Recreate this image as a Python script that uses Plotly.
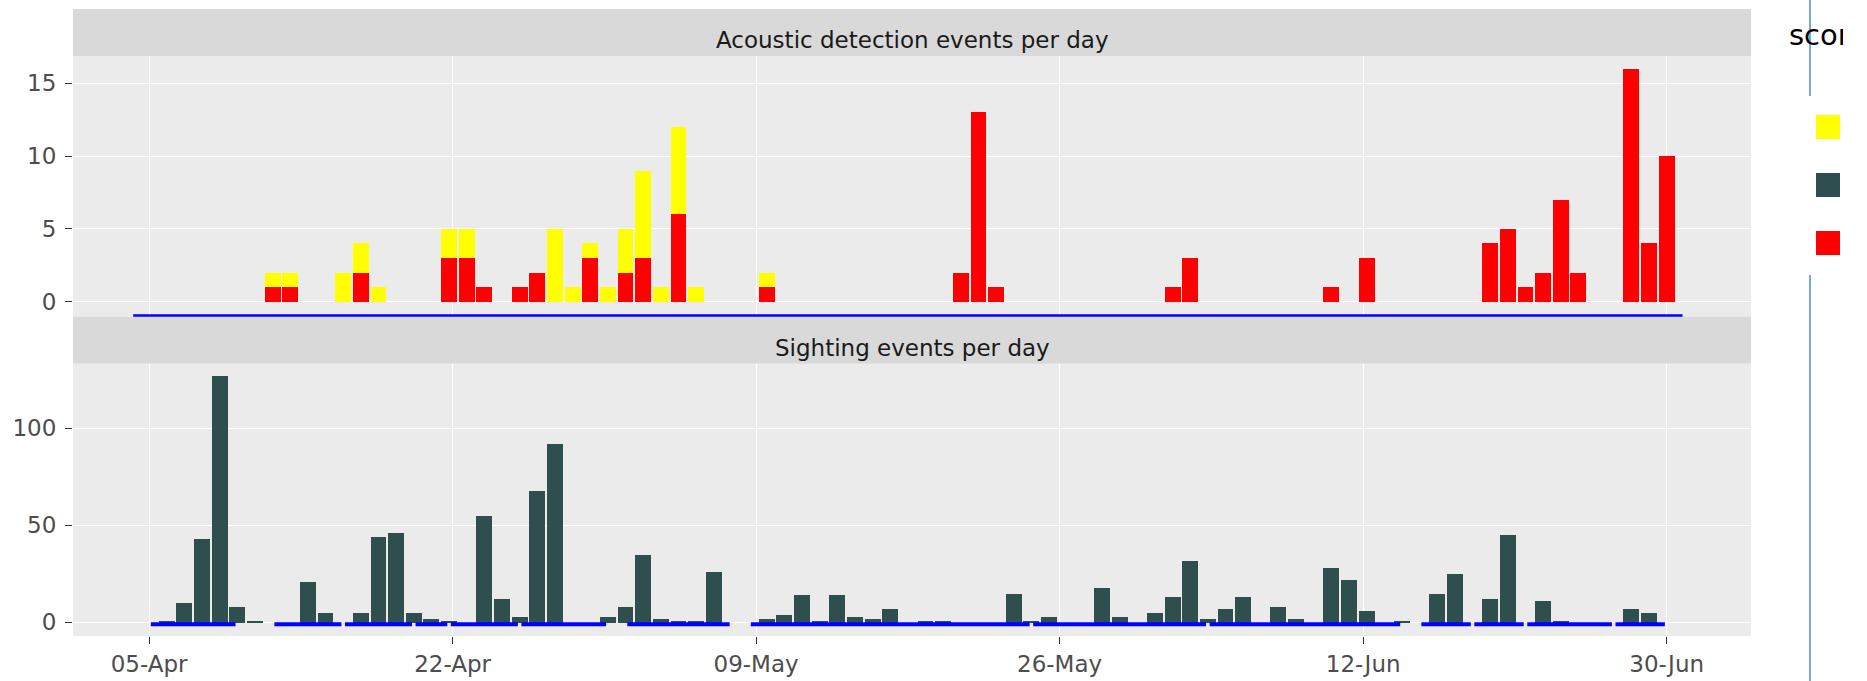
import pandas as pd
import plotly.graph_objects as go

# ---------------- data ----------------
acoustic_red_dates = ["2017-04-12", "2017-04-13", "2017-04-17", "2017-04-22", "2017-04-23",
                      "2017-04-24", "2017-04-26", "2017-04-27", "2017-04-30", "2017-05-02",
                      "2017-05-03", "2017-05-05", "2017-05-10", "2017-05-21", "2017-05-22",
                      "2017-05-23", "2017-06-02", "2017-06-03", "2017-06-11", "2017-06-13",
                      "2017-06-20", "2017-06-21", "2017-06-22", "2017-06-23", "2017-06-24",
                      "2017-06-25", "2017-06-28", "2017-06-29", "2017-06-30"]
acoustic_red_counts = [1, 1, 2, 3, 3, 1, 1, 2, 3, 2, 3, 6, 1, 2, 13, 1, 1, 3, 1, 3,
                       4, 5, 1, 2, 7, 2, 16, 4, 10]

acoustic_yellow_dates = ["2017-04-12", "2017-04-13", "2017-04-16", "2017-04-17", "2017-04-18",
                         "2017-04-22", "2017-04-23", "2017-04-28", "2017-04-29", "2017-04-30",
                         "2017-05-01", "2017-05-02", "2017-05-03", "2017-05-04", "2017-05-05",
                         "2017-05-06", "2017-05-10"]
acoustic_yellow_counts = [1, 1, 2, 2, 1, 2, 2, 5, 1, 1, 1, 3, 6, 1, 6, 1, 1]

sighting_dates = ["2017-04-06", "2017-04-07", "2017-04-08", "2017-04-09", "2017-04-10",
                  "2017-04-11", "2017-04-14", "2017-04-15", "2017-04-17", "2017-04-18",
                  "2017-04-19", "2017-04-20", "2017-04-21", "2017-04-22", "2017-04-24",
                  "2017-04-25", "2017-04-26", "2017-04-27", "2017-04-28", "2017-05-01",
                  "2017-05-02", "2017-05-03", "2017-05-04", "2017-05-05", "2017-05-06",
                  "2017-05-07", "2017-05-10", "2017-05-11", "2017-05-12", "2017-05-13",
                  "2017-05-14", "2017-05-15", "2017-05-16", "2017-05-17", "2017-05-19",
                  "2017-05-20", "2017-05-24", "2017-05-25", "2017-05-26", "2017-05-29",
                  "2017-05-30", "2017-06-01", "2017-06-02", "2017-06-03", "2017-06-04",
                  "2017-06-05", "2017-06-06", "2017-06-08", "2017-06-09", "2017-06-11",
                  "2017-06-12", "2017-06-13", "2017-06-15", "2017-06-17", "2017-06-18",
                  "2017-06-20", "2017-06-21", "2017-06-23", "2017-06-24", "2017-06-28",
                  "2017-06-29"]
sighting_counts = [1, 10, 43, 127, 8, 1, 21, 5, 5, 44, 46, 5, 2, 1, 55, 12, 3, 68, 92, 3,
                   8, 35, 2, 1, 1, 26, 2, 4, 14, 1, 14, 3, 2, 7, 1, 1, 15, 1, 3, 18,
                   3, 5, 13, 32, 2, 7, 13, 8, 2, 28, 22, 6, 1, 15, 25, 12, 45, 11, 1, 7, 5]

# monitoring effort periods (drawn as blue bars just below zero)
acoustic_effort_start = ["2017-04-04 02:24"]
acoustic_effort_end = ["2017-06-30 21:36"]
sighting_effort_start = ["2017-04-05 02:24", "2017-04-12 02:24", "2017-04-16 02:24",
                         "2017-04-20 02:24", "2017-04-22 02:24", "2017-04-26 02:24",
                         "2017-05-02 02:24", "2017-05-09 02:24", "2017-05-25 02:24",
                         "2017-06-04 02:24", "2017-06-16 02:24", "2017-06-19 02:24",
                         "2017-06-22 02:24", "2017-06-27 02:24"]
sighting_effort_end = ["2017-04-09 21:36", "2017-04-15 21:36", "2017-04-19 21:36",
                       "2017-04-21 21:36", "2017-04-25 21:36", "2017-04-30 21:36",
                       "2017-05-07 21:36", "2017-05-24 21:36", "2017-06-03 21:36",
                       "2017-06-14 21:36", "2017-06-18 21:36", "2017-06-21 21:36",
                       "2017-06-26 21:36", "2017-06-29 21:36"]
effort_level = -1

score_levels = ["possible", "sighted", "verified"]
score_colors = ["#ffff00", "#2f4f4f", "#ff0000"]

facet_titles = ["Acoustic detection events per day", "Sighting events per day"]
x_tick_labels = ["05-Apr", "22-Apr", "09-May", "26-May", "12-Jun", "30-Jun"]
x_tick_vals = pd.date_range("2017-04-05", "2017-06-30", periods=len(x_tick_labels))
top_y_ticks = [0, 5, 10, 15]
bottom_y_ticks = [0, 50, 100]

# ---------------- geometry helpers ----------------
W, H = 1843, 681
L, R, T = 73, 92, 56
PLOT_BOTTOM = 636
B = H - PLOT_BOTTOM
PW, PH = W - L - R, H - T - B


def px_x(px):
    return (px - L) / PW


def px_y(py):
    return (PLOT_BOTTOM - py) / PH


DAY_MS = 86400000
FONT = "DejaVu Sans"


def effort_xy(starts, ends, level):
    xs, ys = [], []
    for s, e in zip(starts, ends):
        xs += [s, e, None]
        ys += [level, level, None]
    return xs, ys


fig = go.Figure()

# top facet: acoustic detections (stacked: red bottom, yellow top)
fig.add_trace(go.Bar(x=acoustic_red_dates, y=acoustic_red_counts, name=score_levels[2],
                     marker=dict(color=score_colors[2], line=dict(width=0)),
                     width=0.9 * DAY_MS, xaxis="x", yaxis="y", showlegend=False))
fig.add_trace(go.Bar(x=acoustic_yellow_dates, y=acoustic_yellow_counts, name=score_levels[0],
                     marker=dict(color=score_colors[0], line=dict(width=0)),
                     width=0.9 * DAY_MS, xaxis="x", yaxis="y", showlegend=False))
ex, ey = effort_xy(acoustic_effort_start, acoustic_effort_end, effort_level)
fig.add_trace(go.Scatter(x=ex, y=ey, mode="lines", line=dict(color="#0000ff", width=4),
                         xaxis="x", yaxis="y", showlegend=False, hoverinfo="skip"))

# bottom facet: sightings
fig.add_trace(go.Bar(x=sighting_dates, y=sighting_counts, name=score_levels[1],
                     marker=dict(color=score_colors[1], line=dict(width=0)),
                     width=0.9 * DAY_MS, xaxis="x2", yaxis="y2", showlegend=False))
ex, ey = effort_xy(sighting_effort_start, sighting_effort_end, effort_level)
fig.add_trace(go.Scatter(x=ex, y=ey, mode="lines", line=dict(color="#0000ff", width=4),
                         xaxis="x2", yaxis="y2", showlegend=False, hoverinfo="skip"))

x_range = ["2017-03-31 16:32", "2017-07-04 18:43"]
common_x = dict(type="date", range=x_range, tickvals=list(x_tick_vals), ticktext=x_tick_labels,
                showgrid=True, gridcolor="white", gridwidth=1.2, zeroline=False,
                showline=False, domain=[0, 1], automargin=False)
common_y = dict(showgrid=True, gridcolor="white", gridwidth=1.2, zeroline=False, showline=False,
                ticks="outside", ticklen=7, tickcolor="#333333", tickwidth=1.2,
                ticklabelstandoff=4, automargin=False,
                tickfont=dict(family=FONT, size=23, color="#4d4d4d"))

fig.update_layout(
    width=W, height=H, autosize=False,
    margin=dict(l=L, r=R, t=T, b=B, pad=0),
    paper_bgcolor="white", plot_bgcolor="#ebebeb",
    barmode="stack", bargap=0, showlegend=False,
    font=dict(family=FONT, size=23, color="#4d4d4d"),
    xaxis=dict(anchor="y", showticklabels=False, ticks="", **common_x),
    xaxis2=dict(anchor="y2", ticks="outside", ticklen=7, tickcolor="#333333", tickwidth=1.2,
                tickfont=dict(family=FONT, size=23, color="#4d4d4d"), **common_x),
    yaxis=dict(anchor="x", domain=[px_y(316.67), 1], range=[-1.03, 16.88],
               tickvals=top_y_ticks, **common_y),
    yaxis2=dict(anchor="x2", domain=[0, px_y(363.7)], range=[-7.07, 133.35],
                tickvals=bottom_y_ticks, **common_y),
)

shapes = []
annotations = []
# facet strips
strip_boxes = [(9, 56), (316.67, 363.7)]
strip_text_y = [39.8, 348.0]
for (top, bot), ty, title in zip(strip_boxes, strip_text_y, facet_titles):
    shapes.append(dict(type="rect", xref="paper", yref="paper", x0=0, x1=1,
                       y0=px_y(bot), y1=px_y(top), fillcolor="#d9d9d9",
                       line=dict(width=0), layer="below"))
    annotations.append(dict(text=title, xref="paper", yref="paper", x=0.5, y=px_y(ty),
                            xanchor="center", yanchor="middle", showarrow=False,
                            font=dict(family=FONT, size=23, color="#1a1a1a")))

# thin vertical rule at the right, interrupted by the legend box
for y0, y1 in [(0, 96), (275, H)]:
    shapes.append(dict(type="line", xref="paper", yref="paper", x0=px_x(1810), x1=px_x(1810),
                       y0=px_y(y0), y1=px_y(y1), line=dict(color="#4690c8", width=1.5)))

# legend (title + colour keys)
annotations.append(dict(text="score", xref="paper", yref="paper", x=px_x(1787), y=px_y(34.5),
                        xanchor="left", yanchor="middle", showarrow=False,
                        font=dict(family=FONT, size=29, color="#000000")))
key_tops = [115, 173, 231]
for top, col in zip(key_tops, score_colors):
    shapes.append(dict(type="rect", xref="paper", yref="paper", x0=px_x(1816), x1=px_x(1840),
                       y0=px_y(top + 24), y1=px_y(top), fillcolor=col, line=dict(width=0)))

fig.update_layout(shapes=shapes, annotations=annotations)

fig.write_html("out.html", config={"displayModeBar": False},
               post_script="document.body.style.margin='0px';document.body.style.overflow='hidden';")
